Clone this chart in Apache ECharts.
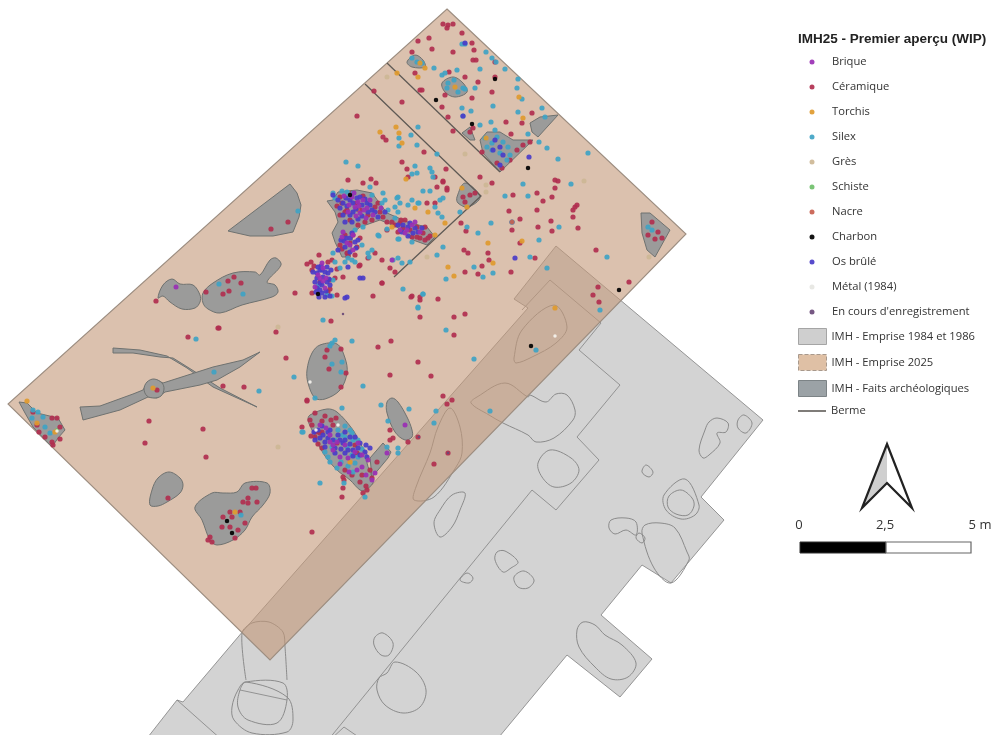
<!DOCTYPE html>
<html><head><meta charset="utf-8">
<style>html,body{margin:0;padding:0;background:#fff}#c{width:1005px;height:735px;filter:blur(0.45px)}</style>
<script src="https://cdn.jsdelivr.net/npm/echarts@6/dist/echarts.min.js"></script>
</head><body><div id="c"></div>
<script>
// --- Map features, in picture coordinates ---
const empriseAncienne = [[[556,246],[763,420],[701,497],[724,520],[671,583],[642,565],[601,615],[652,659],[620,697],[567,655],[480,760],[130,760],[177,700],[183,702],[244,630],[528,308],[514,299]]];
const empriseNouvelle = [[[447,9],[686,234],[270,660],[8,404]]];
const limitesAnciennes = [
 [[522,310],[550,280],[601,323],[579,350],[620,385],[577,437],[599,460],[556,510],[532,490],[320,750]],
 [[177,700],[222,740]],
 [[330,740],[344,727],[360,738]],
 [[240,690],[287,700]]
];
const contoursAnciens = [
 [[717,418],[728,423],[726,432],[717,433],[720,443],[709,455],[703,458],[699,450],[705,430],[709,422]],
 [[744,415],[752,423],[746,433],[738,428],[738,420]],
 [[646,465],[653,472],[649,477],[642,472]],
 [[685,479],[699,505],[695,515],[681,519],[666,510],[664,495]],
 [[681,490],[692,498],[694,506],[688,515],[676,514],[668,507],[669,496]],
 [[626,518],[636,522],[636,535],[626,530],[615,534],[609,528],[611,520]],
 [[660,523],[675,528],[687,552],[689,560],[671,583],[654,568],[642,533],[645,525]],
 [[639,533],[645,538],[642,543],[636,538]],
 [[550,450],[571,458],[579,470],[571,483],[554,487],[542,477],[538,463]],
 [[503,423],[528,435],[536,442],[554,438],[573,420],[575,410],[567,395],[556,394],[546,402],[530,395],[528,397],[505,383],[477,397],[471,403],[489,415]],
 [[465,493],[460,510],[452,527],[440,537],[434,523],[440,510],[452,495]],
 [[505,551],[518,562],[511,568],[503,572],[495,560],[497,552]],
 [[524,571],[534,580],[528,588],[518,587],[514,577]],
 [[467,573],[473,578],[469,583],[460,580]],
 [[583,622],[595,625],[605,635],[622,645],[636,663],[628,677],[611,679],[595,667],[579,647],[577,630]],
 [[383,633],[393,643],[389,655],[381,655],[374,645],[375,637]],
 [[395,662],[416,672],[426,690],[420,707],[403,713],[385,705],[377,690],[379,678],[387,673]],
 [[246,682],[283,683],[287,700],[277,723],[248,720],[238,707],[240,690]],
 [[246,682],[287,697],[293,720],[287,732],[252,733],[234,720],[232,707],[238,690]],
 [[554,305],[567,327],[556,343],[532,357],[516,363],[514,358],[522,330]],
 [[450,408],[460,427],[462,453],[456,467],[434,497],[414,500],[416,487],[430,453],[438,427]]
];
const contoursOuverts = [
 [[246,680],[242,633],[252,623],[269,622],[283,632],[285,647],[287,680]]
];
const faitsAnguleux = [
 [[228,231],[290,184],[297,193],[301,205],[299,217],[293,232],[273,236],[250,236]],
 [[113,348],[140,350],[167,356],[187,368],[213,387],[257,407],[220,388],[197,373],[173,358],[160,357],[133,353],[113,353]],
 [[80,407],[100,406],[133,394],[143,390],[147,383],[157,380],[163,383],[213,367],[243,360],[260,352],[240,367],[217,380],[200,385],[165,392],[157,398],[148,397],[120,410],[83,420]],
 [[19,402],[27,403],[37,413],[58,418],[65,430],[58,438],[52,447],[33,427],[25,413]],
 [[327,201],[333,200],[338,192],[357,190],[372,193],[387,213],[410,223],[427,227],[435,237],[427,245],[413,240],[397,227],[380,220],[360,227],[353,233],[350,257],[342,257],[335,242],[332,233],[338,222],[335,212]],
 [[641,213],[650,213],[670,230],[655,257],[647,250],[642,233]],
 [[530,123],[540,117],[558,115],[538,137],[532,132]],
 [[480,140],[487,132],[500,132],[513,140],[533,140],[500,172],[483,153]],
 [[462,133],[470,127],[475,140],[470,140]],
 [[370,458],[383,443],[391,452],[388,458],[378,470],[372,477]]
];
const faitsArrondis = [
 [[195,507],[212,493],[223,493],[237,492],[245,483],[267,483],[270,493],[263,505],[252,517],[245,530],[233,540],[217,545],[210,540],[202,520]],
 [[203,293],[213,283],[233,273],[255,272],[260,275],[270,260],[276,258],[281,265],[267,282],[275,285],[278,292],[272,297],[242,305],[220,313],[208,309],[203,303]],
 [[158,298],[163,285],[172,279],[180,284],[193,285],[200,295],[200,302],[195,308],[182,309],[170,302],[163,296]],
 [[154,379],[162,383],[164,389],[161,396],[154,398],[147,396],[144,389],[147,382]],
 [[320,345],[337,344],[345,358],[347,373],[340,390],[325,399],[315,398],[308,383],[307,370],[312,353]],
 [[310,415],[327,409],[337,412],[353,430],[360,443],[368,457],[367,463],[372,477],[373,483],[365,490],[360,490],[350,480],[337,470],[323,453],[312,430],[308,420]],
 [[392,398],[398,402],[407,417],[412,430],[412,437],[405,440],[395,432],[387,413],[387,402]],
 [[169,472],[180,478],[183,485],[180,493],[167,502],[158,506],[150,505],[152,490],[158,478]],
 [[457,197],[465,183],[480,197],[468,207],[458,203]],
 [[442,83],[453,77],[463,83],[467,92],[455,97],[445,92]],
 [[407,62],[415,55],[423,60],[425,67],[412,67]]
];
const bermes = [
 [[365,84],[481,196],[394,277]],
 [[387,63],[500,172]]
];

// --- Finds by material ---
const ceramique = [[443,24],[448,25],[453,24],[447,28],[462,33],[418,41],[429,38],[432,49],[453,52],[472,43],[474,50],[473,60],[476,60],[415,73],[422,90],[420,90],[478,82],[465,77],[449,72],[472,98],[492,92],[445,95],[402,102],[357,116],[442,107],[448,117],[453,131],[470,132],[473,128],[506,122],[522,123],[532,113],[511,134],[495,77],[495,62],[374,91],[386,140],[383,137],[424,152],[402,162],[407,169],[408,177],[446,169],[435,177],[443,181],[447,188],[480,177],[492,183],[513,195],[537,193],[543,201],[552,197],[555,188],[555,180],[558,181],[575,207],[577,205],[573,210],[573,217],[509,211],[537,210],[520,219],[512,222],[551,221],[552,231],[538,227],[578,228],[512,230],[461,223],[466,231],[520,243],[464,250],[468,253],[488,253],[489,260],[482,266],[478,274],[465,272],[511,272],[535,258],[596,250],[598,287],[593,295],[629,282],[382,283],[373,296],[412,296],[420,297],[438,299],[360,265],[348,180],[363,183],[371,179],[376,183],
 [295,293],[382,283],[411,297],[420,300],[420,317],[454,317],[465,314],[454,335],[331,321],[276,332],[219,328],[188,337],[286,358],[378,347],[391,341],[418,362],[390,375],[431,376],[307,400],[443,396],[452,400],[447,404],[434,464],[448,453],[312,532],[223,386],[244,387],[149,421],[203,429],[145,443],[206,457],[599,302],
 [327,350],[341,349],[325,357],[329,369],[346,373],[341,387],
 [310,420],[315,437],[320,433],[325,416],[333,425],[331,420],[302,427],[307,401],[322,448],[343,477],[343,488],[342,497],[344,480],[363,493],[367,490],[362,475],[377,462],[372,478],[390,440],[393,438],[408,442],[390,430],[418,437],[315,413],[322,432],[337,443],[355,445],[357,453],
 [342,203],[347,210],[360,210],[368,215],[375,207],[380,212],[357,203],[350,220],[400,223],[405,220],[410,230],[417,227],[423,233],[428,238],[420,238],[403,228],[387,230],[353,235],[350,243],[342,249],[357,247],[347,253],[368,258],[375,253],[382,260],[390,268],[395,272],[427,203],[437,187],[443,182],[447,190],[435,203],[307,264],[312,270],[319,255],[332,260],[337,269],[343,277],[335,278],[359,266],[312,293],[337,295],[320,282],[328,292],[330,280],
 [482,152],[497,163],[502,168],[510,160],[517,150],[523,145],[530,142],[463,197],[470,195],[465,202],[475,193],[412,52],[652,222],[658,232],[648,235],[655,239],[662,238],
 [33,412],[37,425],[52,418],[57,418],[39,432],[45,437],[52,442],[53,445],[60,439],[60,427],[271,229],[288,222],[156,301],[206,292],[228,281],[234,277],[241,283],[223,294],[229,291],[218,328],[157,390],[168,498],
 [252,488],[256,488],[243,502],[248,498],[257,502],[248,503],[230,512],[232,517],[223,517],[222,527],[230,527],[245,523],[238,530],[235,538],[210,537],[208,540],[212,542],[240,512],
 [352,193],[345,212],[363,196],[340,215],[372,220],[383,217],[387,222],[378,203],[365,222],[358,225],[340,197],[337,206],
 [395,225],[398,232],[412,237],[417,237],[425,240],[430,236],[425,227],[401,220],[392,222],
 [345,235],[340,245],[355,255],[360,238],[348,256],[311,262],[314,266],[328,262],[330,289],
 [312,425],[316,432],[311,436],[318,444],[322,421],[336,418],[345,470],[352,475],[360,482],[366,486],[370,470]];
const silex = [[346,162],[358,166],[418,127],[411,135],[399,138],[399,146],[417,145],[437,154],[415,166],[412,174],[417,173],[430,168],[432,172],[423,191],[430,191],[443,198],[440,200],[435,207],[398,197],[412,200],[419,203],[438,213],[442,217],[460,212],[467,227],[478,233],[491,223],[512,222],[539,240],[559,227],[523,184],[505,196],[528,196],[571,184],[558,159],[588,153],[547,148],[539,142],[528,134],[542,108],[518,112],[493,106],[462,108],[471,111],[463,116],[491,122],[480,125],[495,130],[517,88],[522,99],[518,79],[505,69],[480,69],[457,70],[434,68],[442,75],[445,73],[486,52],[492,58],[496,62],[465,44],[462,44],[475,88],[465,89],[607,257],[547,268],[530,257],[474,267],[493,273],[483,277],[446,279],[443,247],[437,255],[403,289],[423,294],[379,236],[399,239],[369,257],[412,242],
 [418,308],[423,294],[446,330],[323,320],[196,339],[259,391],[214,372],[294,377],[352,341],[363,386],[342,408],[381,405],[409,409],[474,359],[436,411],[434,423],[320,483],[490,411],[600,310],[536,350],
 [332,343],[335,340],[330,346],[332,364],[342,362],[341,372],[315,398],[388,421],[302,432],
 [328,457],[330,462],[342,435],[350,430],[353,440],[347,447],[352,455],[358,457],[353,472],[303,432],[387,447],[398,448],[398,453],[365,497],[344,483],
 [333,193],[342,191],[335,198],[370,187],[383,193],[385,200],[347,192],[372,195],[382,203],[353,193],[397,198],[395,207],[400,203],[408,205],[418,203],[398,212],[388,210],[395,218],[363,227],[355,230],[378,235],[398,239],[387,229],[362,245],[368,253],[372,250],[333,253],[348,258],[352,260],[398,258],[402,263],[410,262],[393,260],[418,307],[433,177],
 [485,138],[492,143],[497,137],[503,142],[508,147],[492,150],[500,153],[510,155],[507,160],[487,147],[448,83],[454,80],[458,92],[447,88],[463,88],[412,58],[417,62],[422,63],[545,117],[648,227],[652,230],
 [33,410],[38,412],[43,417],[32,418],[45,427],[50,433],[298,211],[219,284],[243,294],[241,515],
 [345,262],[335,262],[340,268],[355,262],[327,295],[318,286],[333,280],[332,296],
 [338,430],[345,426],[352,433],[345,437],[358,440],[362,449],[335,440],[341,462],[337,468],[325,452],[332,447],[355,463],[348,466]];
const osBrule = [[529,157],[515,258],[500,165],[463,116],[493,150],[500,147],[503,155],[495,140],[465,43],
 [315,440],[320,438],[325,442],[333,440],[323,435],[343,443],[348,450],[353,450],[358,448],[365,452],[367,457],[340,440],[335,448],[350,437],[345,453],[328,432],
 [333,195],[343,203],[350,200],[357,198],[362,205],[367,203],[372,210],[343,215],[353,212],[403,225],[408,227],[415,228],[350,238],[355,242],[345,247],[348,267],[318,267],[322,270],[327,267],[317,273],[323,277],[328,273],[315,282],[322,285],[327,282],[320,290],[325,297],[345,298],[347,297],[360,278],[363,278],[320,270],[330,285],[317,288],
 [338,200],[346,198],[353,203],[360,197],[365,199],[370,205],[375,212],[340,208],[347,206],[350,215],[356,209],[362,216],[368,212],[378,217],[345,222],[352,222],[358,219],[385,212],
 [398,225],[402,232],[410,223],[413,233],[418,232],[408,236],[422,228],
 [341,240],[346,238],[352,233],[356,248],[350,252],[344,241],[358,240],[338,250],
 [317,278],[321,266],[325,272],[329,279],[313,272],[316,292],[322,293],[326,291],[320,283],[331,270],[319,297],[330,296],
 [330,430],[338,435],[345,432],[355,437],[360,443],[366,445],[370,448],[345,440],[350,444],[353,456],[341,449],[325,447],[318,430],[314,432],[322,426],[328,438],[335,453],[360,455]];
const brique = [[176,287],[333,445],[337,442],[358,443],[362,455],[340,457],[362,467],[387,453],[405,425],[320,425],[333,450],[372,480],[368,460],[348,458],
 [358,202],[363,200],[355,207],[367,208],[360,213],[352,197],[407,230],[412,225],[400,230],[350,245],[323,268],[320,278],[325,288],[353,235],[392,260],
 [344,196],[349,205],[354,193],[359,206],[364,210],[370,200],[373,215],[381,208],[366,218],[356,216],[348,212],
 [405,233],[415,222],[420,232],[347,243],[353,250],[342,237],[343,232],
 [318,275],[326,278],[322,263],[315,287],[323,281],
 [326,428],[330,435],[345,445],[355,452],[340,464],[349,472],[357,470],[330,442],[366,475],[375,473]];
const torchis = [[380,132],[396,127],[399,133],[402,143],[406,179],[397,73],[425,68],[418,77],[486,138],[523,118],[519,97],[462,188],[467,207],[435,235],[488,243],[522,241],[493,263],[448,267],[454,276],[455,87],[420,63],[555,308],[415,208],[392,227],[428,212],[445,223],[27,401],[37,423],[55,432],[153,388],[235,512],[350,462]];
const gres = [[387,77],[465,154],[486,185],[486,192],[584,181],[427,257],[649,257],[278,327],[278,447]];
const schiste = [[57,430]];
const nacre = [[358,210],[512,222]];
const charbon = [[436,100],[472,124],[495,79],[528,168],[619,290],[350,195],[318,294],[227,521],[232,533],[531,346]];
const metal = [[555,336],[316,430],[338,425],[310,382],[57,431]];
const enCours = [[419,437],[448,453],[343,314]];

const textes = {titre:'IMH25 - Premier aperçu (WIP)'};
const materiaux = ['Brique','Céramique','Torchis','Silex','Grès','Schiste','Nacre','Charbon','Os brûlé','Métal (1984)',"En cours d'enregistrement"];
const couches = ['IMH - Emprise 1984 et 1986','IMH - Emprise 2025','IMH - Faits archéologiques'];
const echelle = ['0','2,5','5 m'];

function couche(name, polys, style, opts) {
  opts = opts || {};
  return {
    name, type:'custom', coordinateSystem:'cartesian2d', silent:true, clip:true, z:opts.z||1,
    itemStyle:{color:style.fill||style.stroke},
    data: polys.map((p,i)=>[i]),
    encode:{x:0,y:0},
    renderItem(params, api){
      const pts = polys[params.dataIndex].map(q=>api.coord(q));
      return {
        type: opts.open ? 'polyline' : 'polygon',
        shape:{points:pts, smooth:opts.smooth||0},
        style:{fill:opts.open?null:(style.fill||null), stroke:style.stroke, lineWidth:style.width||1}
      };
    }
  };
}
function points(name, data, color, size, z, extra) {
  return Object.assign({name, type:'scatter', data, symbol:'circle', symbolSize:size, silent:true, z:z,
    itemStyle:{color:color, opacity:0.92}}, extra||{});
}
const grisTrait = '#8b8b8b';
const series = [
  couche(couches[0], empriseAncienne, {fill:'#d3d3d3', stroke:grisTrait, width:0.9}, {z:1}),
  couche('limites', limitesAnciennes, {stroke:grisTrait, width:0.9}, {z:1, open:true}),
  couche('contours', contoursAnciens, {stroke:grisTrait, width:1}, {z:1, smooth:0.35}),
  couche('contours ouverts', contoursOuverts, {stroke:grisTrait, width:1}, {z:1, open:true, smooth:0.3}),
  couche(couches[1], empriseNouvelle, {fill:'rgba(195,152,120,0.6)', stroke:'#9c8d80', width:1.1}, {z:2}),
  couche(couches[2], faitsAnguleux, {fill:'#9b9b9a', stroke:'#6f7270', width:1}, {z:3}),
  couche('faits arrondis', faitsArrondis, {fill:'#9b9b9a', stroke:'#6f7270', width:1}, {z:3, smooth:0.35}),
  couche('Berme', bermes, {stroke:'#5f5a55', width:1.3}, {z:4, open:true}),
  points(materiaux[4], gres, '#cdb795', 5, 5),
  points(materiaux[5], schiste, '#6fbf6a', 4, 5),
  points(materiaux[1], ceramique, '#b12f4f', 5.2, 6),
  points(materiaux[3], silex, '#3fa3c4', 5.2, 7),
  points(materiaux[2], torchis, '#e09a2e', 5.2, 8),
  points(materiaux[6], nacre, '#c8604f', 4.5, 8),
  points(materiaux[8], osBrule, '#4a3cc8', 5.2, 9),
  points(materiaux[0], brique, '#9a2fb4', 5, 10),
  points(materiaux[7], charbon, '#000000', 4.5, 11),
  points(materiaux[9], metal, '#f5f3ee', 3.5, 11),
  points(materiaux[10], enCours, '#6a4a78', 2.5, 11)
];
const policeLegende = {color:'#333', fontFamily:'Open Sans', fontSize:11.2};
const chart = echarts.init(document.getElementById('c'), null, {renderer:'canvas'});
chart.setOption({
  animation:false, backgroundColor:'#ffffff',
  grid:{left:0,right:0,top:0,bottom:0},
  xAxis:{type:'value',min:0,max:1005,show:false},
  yAxis:{type:'value',min:0,max:735,inverse:true,show:false},
  title:{text:textes.titre,left:798,top:32,padding:0,textStyle:{fontFamily:'Liberation Sans',fontWeight:'bold',fontSize:13.5,color:'#222'}},
  legend:[
    {left:809.5,top:55,padding:0,orient:'vertical',itemWidth:5,itemHeight:5,itemGap:11,selectedMode:false,
     data:materiaux.map(n=>({name:n,icon:'circle',itemStyle:n===materiaux[9]?{color:'#e6e6e2'}:undefined})),
     textStyle:Object.assign({padding:[0,0,0,12.5],lineHeight:14},policeLegende)},
    {left:798,top:328,padding:0,orient:'vertical',itemWidth:28,itemHeight:16,itemGap:9,selectedMode:false,
     data:[
      {name:couches[0],icon:'rect',itemStyle:{color:'#cfcfcf',borderColor:'#a5a5a5',borderWidth:1}},
      {name:couches[1],icon:'rect',itemStyle:{color:'#dfc0a5',borderColor:'#a8998c',borderWidth:1,borderType:'dashed'}},
      {name:couches[2],icon:'rect',itemStyle:{color:'#9ba2a6',borderColor:'#7c8386',borderWidth:1}}],
     textStyle:Object.assign({lineHeight:16},policeLegende)},
    {left:798,top:404,padding:0,orient:'vertical',itemWidth:28,itemHeight:1.5,selectedMode:false,
     data:[{name:'Berme',icon:'rect',itemStyle:{color:'#55514d'}}],
     textStyle:Object.assign({lineHeight:14},policeLegende)}
  ],
  graphic:[
    {type:'polygon',shape:{points:[[887,444],[887,483],[862,508]]},style:{fill:'#cfcfcf'}},
    {type:'polygon',shape:{points:[[887,444],[912,508],[887,483],[862,508]]},style:{fill:'none',stroke:'#222',lineWidth:2.2,lineJoin:'miter'}},
    {type:'rect',shape:{x:800,y:542,width:86,height:11},style:{fill:'#000',stroke:'#333',lineWidth:1}},
    {type:'rect',shape:{x:886,y:542,width:85,height:11},style:{fill:'#fff',stroke:'#666',lineWidth:1.2}},
    {type:'text',x:799,y:525,style:{text:echelle[0],fill:'#333',font:'13px "Open Sans"',textAlign:'center',textVerticalAlign:'middle'}},
    {type:'text',x:885,y:525,style:{text:echelle[1],fill:'#333',font:'13px "Open Sans"',textAlign:'center',textVerticalAlign:'middle'}},
    {type:'text',x:980,y:525,style:{text:echelle[2],fill:'#333',font:'13px "Open Sans"',textAlign:'center',textVerticalAlign:'middle'}}
  ],
  series
});
</script></body></html>
